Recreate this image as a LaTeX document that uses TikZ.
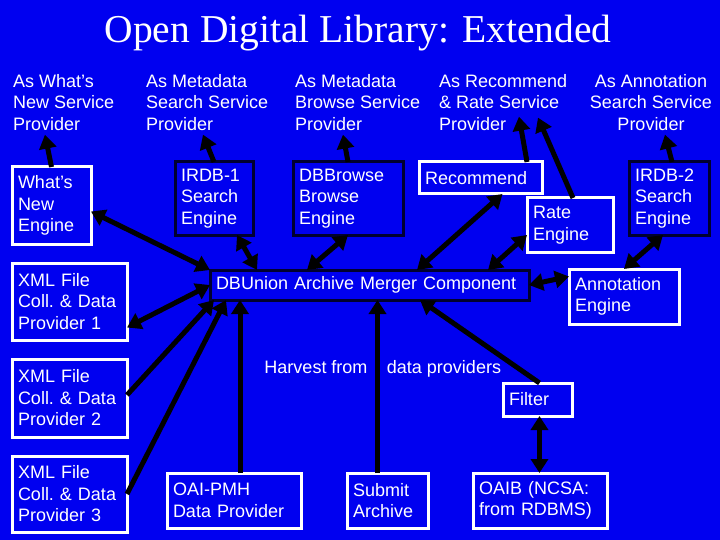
\documentclass[tikz,border=0pt]{standalone}
\usepackage{fontspec}
\setmainfont{Liberation Sans}
\newfontfamily\titlefont{Liberation Serif}
\usetikzlibrary{arrows.meta, positioning, calc}
\definecolor{slide}{RGB}{0,0,240}
\definecolor{rim}{RGB}{0,0,48}

\begin{document}
\begin{tikzpicture}[
  x=1pt, y=-1pt,
  txt/.style={text=white, font=\fontsize{18}{21.5}\selectfont\frenchspacing},
  head/.style={txt, align=left, anchor=north west, inner sep=0pt},
  comp/.style={txt, draw=white, line width=3pt, fill=slide, align=left,
    anchor=north west, inner xsep=6pt, inner ysep=0pt, outer sep=0pt},
  core/.style={comp, draw=rim},
  link/.style={draw=black, line width=5pt, -{Triangle[length=14pt, width=17pt]}},
  dlink/.style={link, {Triangle[length=14pt, width=17pt]}-{Triangle[length=14pt, width=17pt]}}
]
  \fill[slide] (0,0) rectangle (720,540);
  \useasboundingbox (0,0) rectangle (720,540);

  \node[font=\titlefont\fontsize{39.5}{48}\selectfont, text=white, anchor=base]
    (title) at (358,43) {Open Digital Library: Extended};

  % service providers
  \node[head] (hnew) at (13,74) {As What’s\\New Service\\Provider};
  \node[head] (hsearch) at (146,74) {As Metadata\\Search Service\\Provider};
  \node[head] (hbrowse) at (295,74) {As Metadata\\Browse Service\\Provider};
  \node[head] (hrec) at (439,74) {As Recommend\\\& Rate Service\\Provider};
  \node[head, align=center, anchor=north] (hannot) at (651,74)
    {As Annotation\\Search Service\\Provider};

  % engines
  \node[comp, text width=67pt, minimum height=77pt] (whatsnew) at (12,167)
    {What’s\\New\\Engine};
  \node[core, text width=66pt, minimum height=73pt] (irdbone) at (175,162)
    {IRDB-1\\Search\\Engine};
  \node[core, text width=98pt, minimum height=73pt] (dbbrowse) at (293,162)
    {DBBrowse\\Browse\\Engine};
  \node[comp, text width=111pt, minimum height=32pt] (recommend) at (419,162)
    {Recommend};
  \node[comp, text width=74pt, minimum height=54pt] (rate) at (527,198)
    {Rate\\Engine};
  \node[core, text width=68pt, minimum height=73pt] (irdbtwo) at (629,162)
    {IRDB-2\\Search\\Engine};
  \node[core, text width=307pt, minimum height=30pt] (dbunion) at (210,270)
    {DBUnion Archive Merger Component};
  \node[comp, text width=98pt, minimum height=55pt] (annot) at (569,269)
    {Annotation\\Engine};

  % data providers
  \node[comp, text width=103pt, minimum height=77pt] (xmlone) at (12,263)
    {XML File\\Coll. \& Data\\Provider 1};
  \node[comp, text width=103pt, minimum height=78pt] (xmltwo) at (12,359)
    {XML File\\Coll. \& Data\\Provider 2};
  \node[comp, text width=103pt, minimum height=76pt] (xmlthree) at (12,456)
    {XML File\\Coll. \& Data\\Provider 3};
  \node[comp, text width=57pt, minimum height=33pt] (filter) at (503,383)
    {Filter};
  \node[comp, text width=122pt, minimum height=55pt] (oaipmh) at (167,473)
    {OAI-PMH\\Data Provider};
  \node[comp, text width=69pt, minimum height=55pt] (submit) at (347,473)
    {Submit\\Archive};
  \node[comp, text width=122pt, minimum height=55pt] (oaib) at (473,473)
    {OAIB (NCSA:\\from RDBMS)};

  \node[txt, anchor=base] (harvest) at (316,373) {Harvest from};
  \node[txt, anchor=base] (dataprov) at (444,373) {data providers};

  % up to the service providers
  \draw[link] (whatsnew.north) -- ([xshift=32pt, yshift=-4pt]hnew.south west);
  \draw[link] (irdbone.north) -- ([xshift=57pt, yshift=-4pt]hsearch.south west);
  \draw[link] (dbbrowse.north) -- ([xshift=48pt, yshift=-4pt]hbrowse.south west);
  \draw[link] ([xshift=-15pt]recommend.north east) -- ([xshift=80pt, yshift=14pt]hrec.south west);
  \draw[link] ([xshift=46pt]rate.north west) -- ([xshift=99pt, yshift=13pt]hrec.south west);
  \draw[link] ([xshift=3pt]irdbtwo.north) -- ([xshift=14pt, yshift=-4pt]hannot.south);

  % engines and the merger
  \draw[dlink] ([yshift=-6pt]whatsnew.east) -- (dbunion.north west);
  \draw[dlink] ([xshift=23pt]irdbone.south) -- ([xshift=47pt]dbunion.north west);
  \draw[dlink] (dbbrowse.south) -- ([xshift=97pt]dbunion.north west);
  \draw[dlink] ([xshift=22pt]recommend.south) -- ([xshift=207pt]dbunion.north west);
  \draw[dlink] ([yshift=-10pt]rate.west) -- ([xshift=278pt]dbunion.north west);
  \draw[dlink] ([xshift=-6pt]irdbtwo.south) -- (annot.north);
  \draw[dlink] (dbunion.east) -- ([yshift=20pt]annot.west);

  % harvesting
  \draw[dlink] ([yshift=-26pt]xmlone.east) -- (dbunion.west);
  \draw[link] ([yshift=3pt]xmltwo.east) -- ([xshift=4pt]dbunion.south west);
  \draw[link] (xmlthree.east) -- ([xshift=16pt]dbunion.south west);
  \draw[link] ([xshift=6pt]oaipmh.north) -- ([xshift=6pt]oaipmh.north |- dbunion.south);
  \draw[link] ([xshift=-10pt]submit.north) -- ([xshift=-10pt]submit.north |- dbunion.south);
  \draw[link] ([xshift=2pt]filter.north) -- ([xshift=210pt]dbunion.south west);
  \draw[dlink] ([xshift=2pt]filter.south) -- ([xshift=2pt]filter.south |- oaib.north);
\end{tikzpicture}
\end{document}
